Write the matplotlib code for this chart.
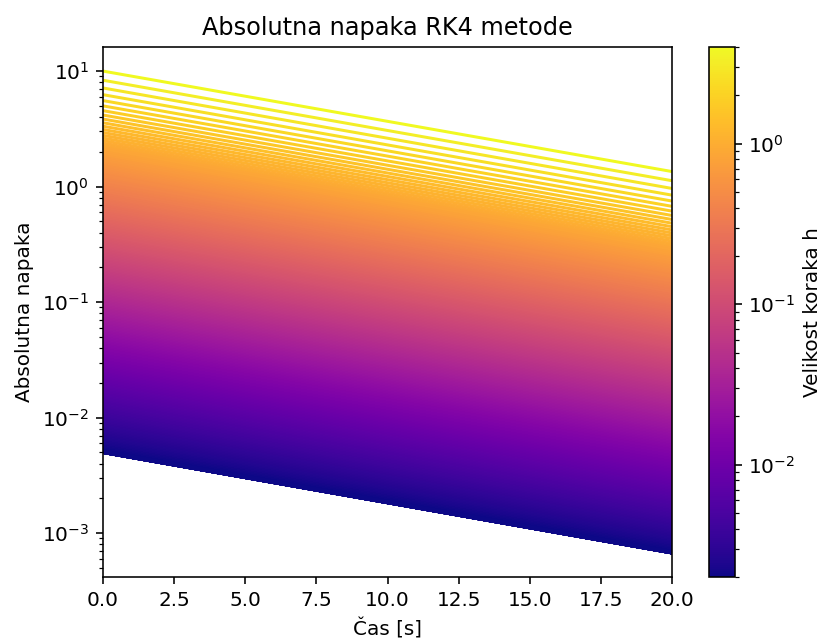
import numpy as np
import matplotlib
matplotlib.use("Agg")
import matplotlib.pyplot as plt
from matplotlib.collections import LineCollection
from matplotlib.colors import LogNorm

# casovni interval in stevilo korakov (h = t_konec / n)
t_zacetek = 0.0
t_konec = 20.0
n_koraki = np.arange(5, 10001)

# napaka najvecjega koraka (h = 4) na zacetku in koncu intervala
napaka_zacetek_max = 10.0
napaka_konec_max = 1.35

h = t_konec / n_koraki
faktor = h / h.max()
napaka_zacetek = napaka_zacetek_max * faktor
napaka_konec = napaka_konec_max * faktor

segmenti = np.stack([
    np.column_stack([np.full_like(h, t_zacetek), napaka_zacetek]),
    np.column_stack([np.full_like(h, t_konec), napaka_konec]),
], axis=1)

dpi = 144
fig = plt.figure(figsize=(822/dpi, 640/dpi), dpi=dpi)
ax = fig.add_axes([103/822, 63/640, 569/822, 530/640])
cax = fig.add_axes([708.5/822, 63/640, 26/822, 530/640])

ax.set_yscale('log')
lc = LineCollection(segmenti, cmap='plasma', norm=LogNorm(vmin=h.min(), vmax=h.max()),
                    linewidths=1.5)
lc.set_array(h)
ax.add_collection(lc)

# robovi kot pri samodejnem skaliranju (5 % v log prostoru)
lo = np.log10(min(napaka_zacetek.min(), napaka_konec.min()))
hi = np.log10(max(napaka_zacetek.max(), napaka_konec.max()))
rob = 0.05 * (hi - lo)
ax.set_ylim(10**(lo - rob), 10**(hi + rob))
ax.set_xlim(t_zacetek, t_konec)

ax.set_title('Absolutna napaka RK4 metode')
ax.set_xlabel('Čas [s]')
ax.set_ylabel('Absolutna napaka')

fig.colorbar(lc, cax=cax, label='Velikost koraka h')

fig.savefig('out.png', dpi=dpi)
